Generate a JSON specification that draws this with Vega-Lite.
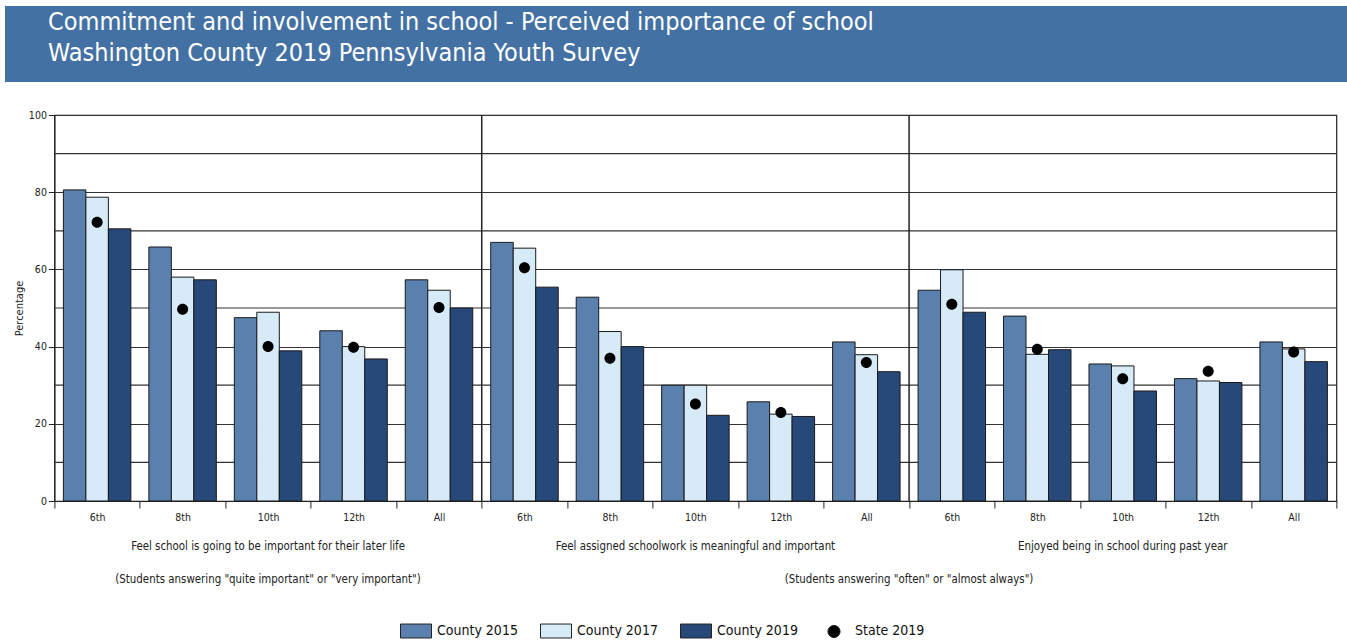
{
  "$schema": "https://vega.github.io/schema/vega-lite/v6.json",
  "padding": {"left": 5, "top": 6, "right": 0, "bottom": 0},
  "spacing": 27,
  "center": true,
  "config": {
    "font": "DejaVu Sans Condensed, sans-serif",
    "view": {"stroke": "#222", "strokeWidth": 1.2}
  },
  "datasets": {
    "pys": [
      {"key": "1|6th", "series": "County 2015", "value": 80.6},
      {"key": "1|6th", "series": "County 2017", "value": 78.7},
      {"key": "1|6th", "series": "County 2019", "value": 70.5},
      {"key": "1|6th", "series": "State 2019", "value": 72.2},
      {"key": "1|8th", "series": "County 2015", "value": 65.8},
      {"key": "1|8th", "series": "County 2017", "value": 58.0},
      {"key": "1|8th", "series": "County 2019", "value": 57.3},
      {"key": "1|8th", "series": "State 2019", "value": 49.7},
      {"key": "1|10th", "series": "County 2015", "value": 47.5},
      {"key": "1|10th", "series": "County 2017", "value": 48.9},
      {"key": "1|10th", "series": "County 2019", "value": 38.9},
      {"key": "1|10th", "series": "State 2019", "value": 40.0},
      {"key": "1|12th", "series": "County 2015", "value": 44.1},
      {"key": "1|12th", "series": "County 2017", "value": 40.0},
      {"key": "1|12th", "series": "County 2019", "value": 36.8},
      {"key": "1|12th", "series": "State 2019", "value": 39.8},
      {"key": "1|All", "series": "County 2015", "value": 57.3},
      {"key": "1|All", "series": "County 2017", "value": 54.6},
      {"key": "1|All", "series": "County 2019", "value": 50.0},
      {"key": "1|All", "series": "State 2019", "value": 50.1},
      {"key": "2|6th", "series": "County 2015", "value": 67.0},
      {"key": "2|6th", "series": "County 2017", "value": 65.5},
      {"key": "2|6th", "series": "County 2019", "value": 55.4},
      {"key": "2|6th", "series": "State 2019", "value": 60.4},
      {"key": "2|8th", "series": "County 2015", "value": 52.8},
      {"key": "2|8th", "series": "County 2017", "value": 43.9},
      {"key": "2|8th", "series": "County 2019", "value": 40.0},
      {"key": "2|8th", "series": "State 2019", "value": 37.0},
      {"key": "2|10th", "series": "County 2015", "value": 30.0},
      {"key": "2|10th", "series": "County 2017", "value": 30.0},
      {"key": "2|10th", "series": "County 2019", "value": 22.2},
      {"key": "2|10th", "series": "State 2019", "value": 25.1},
      {"key": "2|12th", "series": "County 2015", "value": 25.7},
      {"key": "2|12th", "series": "County 2017", "value": 22.5},
      {"key": "2|12th", "series": "County 2019", "value": 21.9},
      {"key": "2|12th", "series": "State 2019", "value": 22.9},
      {"key": "2|All", "series": "County 2015", "value": 41.2},
      {"key": "2|All", "series": "County 2017", "value": 37.9},
      {"key": "2|All", "series": "County 2019", "value": 33.5},
      {"key": "2|All", "series": "State 2019", "value": 35.9},
      {"key": "3|6th", "series": "County 2015", "value": 54.6},
      {"key": "3|6th", "series": "County 2017", "value": 59.9},
      {"key": "3|6th", "series": "County 2019", "value": 48.9},
      {"key": "3|6th", "series": "State 2019", "value": 51.0},
      {"key": "3|8th", "series": "County 2015", "value": 47.9},
      {"key": "3|8th", "series": "County 2017", "value": 38.0},
      {"key": "3|8th", "series": "County 2019", "value": 39.2},
      {"key": "3|8th", "series": "State 2019", "value": 39.3},
      {"key": "3|10th", "series": "County 2015", "value": 35.5},
      {"key": "3|10th", "series": "County 2017", "value": 35.0},
      {"key": "3|10th", "series": "County 2019", "value": 28.5},
      {"key": "3|10th", "series": "State 2019", "value": 31.7},
      {"key": "3|12th", "series": "County 2015", "value": 31.7},
      {"key": "3|12th", "series": "County 2017", "value": 31.1},
      {"key": "3|12th", "series": "County 2019", "value": 30.7},
      {"key": "3|12th", "series": "State 2019", "value": 33.6},
      {"key": "3|All", "series": "County 2015", "value": 41.2},
      {"key": "3|All", "series": "County 2017", "value": 39.4},
      {"key": "3|All", "series": "County 2019", "value": 36.1},
      {"key": "3|All", "series": "State 2019", "value": 38.6}
    ],
    "minorGrid": [{"level": 10}, {"level": 30}, {"level": 50}, {"level": 70}, {"level": 90}],
    "dividers": [{"key": "2|6th"}, {"key": "3|6th"}],
    "questions": [
      {"key": "1|10th", "text": "Feel school is going to be important for their later life"},
      {"key": "2|10th", "text": "Feel assigned schoolwork is meaningful and important"},
      {"key": "3|10th", "text": "Enjoyed being in school during past year"}
    ],
    "note1": [
      {"key": "1|10th", "text": "(Students answering \"quite important\" or \"very important\")"}
    ],
    "note2": [
      {"key": "3|6th", "text": "(Students answering \"often\" or \"almost always\")"}
    ]
  },
  "vconcat": [
    {
      "width": 1382,
      "height": 76,
      "view": {"fill": "#4471a4", "stroke": null},
      "data": {"values": [{}]},
      "title": {
        "text": ["Commitment and involvement in school - Perceived importance of school", "Washington County 2019 Pennsylvania Youth Survey"],
        "anchor": "start",
        "frame": "group",
        "orient": "top",
        "offset": -60,
        "dx": 43,
        "color": "#ffffff",
        "fontSize": 25,
        "fontWeight": "normal",
        "lineHeight": 31
      },
      "mark": {"type": "text"},
      "encoding": {"text": {"value": ""}}
    },
    {
      "width": 1282,
      "height": 386,
      "data": {"name": "pys"},
      "layer": [
        {
          "data": {"name": "minorGrid"},
          "mark": {"type": "rule", "color": "#333", "strokeWidth": 1.2},
          "encoding": {
            "y": {"field": "level", "type": "quantitative"}
          }
        },
        {
          "transform": [{"filter": "datum.series !== 'State 2019'"}],
          "mark": {"type": "bar", "stroke": "#1a1a1a", "strokeWidth": 1},
          "encoding": {
            "x": {
              "field": "key", "type": "nominal",
              "scale": {
                "domain": ["1|6th", "1|8th", "1|10th", "1|12th", "1|All", "2|6th", "2|8th", "2|10th", "2|12th", "2|All", "3|6th", "3|8th", "3|10th", "3|12th", "3|All"],
                "paddingInner": 0, "paddingOuter": 0
              },
              "axis": {
                "title": null,
                "labelExpr": "split(datum.label, '|')[1]",
                "labelAngle": 0,
                "tickBand": "extent",
                "tickSize": 7,
                "tickColor": "#222",
                "domainColor": "#222",
                "labelFontSize": 10.5,
                "labelPadding": 4,
                "labelColor": "#222"
              }
            },
            "xOffset": {
              "field": "series", "type": "nominal",
              "scale": {"domain": ["County 2015", "County 2017", "County 2019"], "paddingOuter": 0.4, "paddingInner": 0}
            },
            "y": {
              "field": "value", "type": "quantitative",
              "scale": {"domain": [0, 100]},
              "axis": {
                "title": "Percentage",
                "titleFontSize": 11,
                "titleFontWeight": "normal",
                "titleColor": "#222",
                "titlePadding": 4,
                "values": [0, 20, 40, 60, 80, 100],
                "grid": true,
                "gridColor": "#333",
                "gridWidth": 1.2,
                "domainColor": "#222",
                "tickColor": "#222",
                "tickSize": 6,
                "labelFontSize": 10.5,
                "labelPadding": 2,
                "labelColor": "#222"
              }
            },
            "color": {
              "field": "series", "type": "nominal",
              "scale": {
                "domain": ["County 2015", "County 2017", "County 2019", "State 2019"],
                "range": ["#5a80ae", "#d6eaf8", "#27497a", "#000000"]
              },
              "legend": {
                "title": null,
                "orient": "none",
                "legendX": 395,
                "legendY": 609,
                "direction": "horizontal",
                "columns": 4,
                "symbolSize": 961,
                "symbolStrokeColor": "#222",
                "symbolStrokeWidth": 1,
                "labelFontSize": 14,
                "labelColor": "#111",
                "labelOffset": 5,
                "columnPadding": 20
              }
            }
          }
        },
        {
          "transform": [{"filter": "datum.series === 'State 2019'"}],
          "mark": {"type": "point", "filled": true, "size": 795, "opacity": 1},
          "encoding": {
            "x": {"field": "key", "type": "nominal"},
            "y": {"field": "value", "type": "quantitative"},
            "color": {"field": "series", "type": "nominal"},
            "shape": {
              "field": "series", "type": "nominal",
              "scale": {
                "domain": ["County 2015", "County 2017", "County 2019", "State 2019"],
                "range": ["M-1,-0.45H1V0.45H-1Z", "M-1,-0.45H1V0.45H-1Z", "M-1,-0.45H1V0.45H-1Z", "M0.39,0A0.39,0.39,0,1,1,-0.39,0A0.39,0.39,0,1,1,0.39,0Z"]
              },
              "legend": {
                "title": null,
                "orient": "none",
                "legendX": 395,
                "legendY": 609,
                "direction": "horizontal",
                "columns": 4,
                "symbolSize": 961
              }
            }
          }
        },
        {
          "data": {"name": "dividers"},
          "mark": {"type": "rule", "color": "#222", "strokeWidth": 1.5},
          "encoding": {
            "x": {"field": "key", "type": "nominal", "bandPosition": 0}
          }
        },
        {
          "data": {"name": "questions"},
          "mark": {"type": "text", "fontSize": 11.4, "color": "#222"},
          "encoding": {
            "x": {"field": "key", "type": "nominal"},
            "y": {"datum": -12, "type": "quantitative"},
            "text": {"field": "text"}
          }
        },
        {
          "data": {"name": "note1"},
          "mark": {"type": "text", "fontSize": 11.4, "color": "#222"},
          "encoding": {
            "x": {"field": "key", "type": "nominal"},
            "y": {"datum": -20.5, "type": "quantitative"},
            "text": {"field": "text"}
          }
        },
        {
          "data": {"name": "note2"},
          "mark": {"type": "text", "fontSize": 11.4, "color": "#222"},
          "encoding": {
            "x": {"field": "key", "type": "nominal", "bandPosition": 0},
            "y": {"datum": -20.5, "type": "quantitative"},
            "text": {"field": "text"}
          }
        }
      ]
    }
  ]
}
